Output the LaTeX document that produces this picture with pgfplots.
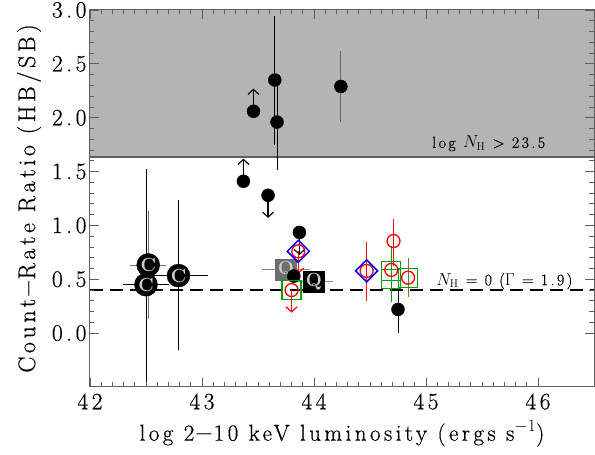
\documentclass[border=0pt]{standalone}
\usepackage{fontspec}
\usepackage{pgfplots}
\pgfplotsset{compat=1.18}
\usetikzlibrary{arrows.meta}
\newfontfamily\spaced{Latin Modern Roman}[LetterSpace=15, FakeBold=0.6]

\definecolor{shade}{RGB}{180,180,180}
\definecolor{edge}{RGB}{95,95,95}
\definecolor{qgray}{RGB}{110,110,110}
\definecolor{letter}{RGB}{205,205,205}
\definecolor{grn}{RGB}{0,155,0}
\definecolor{oliv}{RGB}{120,120,40}

\begin{document}
\begin{tikzpicture}
\path[use as bounding box] (-90pt,-68pt) rectangle (505pt,387pt);
\begin{axis}[
  scale only axis, width=504pt, height=377pt,
  xmin=42, xmax=46.5, ymin=-0.5, ymax=3,
  xtick={42,43,44,45,46}, ytick={0,0.5,1,1.5,2,2.5,3},
  minor x tick num=9, minor y tick num=4,
  tick align=inside, major tick length=9pt, minor tick length=4.5pt,
  axis line style={edge, line width=1pt},
  every tick/.style={edge, line width=0.8pt},
  /pgf/number format/assume math mode=true,
  ticklabel style={font=\fontsize{23.5}{23.5}\selectfont\spaced},
  xticklabel style={yshift=-3pt, /pgf/number format/.cd, fixed, precision=0, 1000 sep={}},
  yticklabel style={/pgf/number format/.cd, fixed, fixed zerofill, precision=1},
  xlabel={log 2$-$10 keV luminosity (ergs s$^{-1}$)},
  ylabel={Count$-$Rate Ratio (HB/SB)},
  xlabel style={font=\fontsize{23}{26}\selectfont\spaced, yshift=-4pt},
  ylabel style={font=\fontsize{24}{26}\selectfont\spaced, yshift=4pt},
  axis on top,
]

% obscured region
\addplot[fill=shade, draw=none] coordinates {(42,1.635) (46.5,1.635) (46.5,3) (42,3) (42,1.635)};
\addplot[edge, line width=1.5pt] coordinates {(42,1.635) (46.5,1.635)};

% unabsorbed power law
\addplot[black, line width=1.3pt, dash pattern=on 13pt off 7pt] coordinates {(42,0.4) (46.5,0.4)};

% C circles
\addplot[only marks, mark=*, mark size=11.5pt, black!55,
  mark options={black},
  nodes near coords={C},
  every node near coord/.style={anchor=center, text=letter, font=\fontsize{19}{19}\selectfont\bfseries},
  error bars/.cd, x dir=both, x explicit, y dir=both, y explicit,
  error bar style={line width=0.8pt}, error mark options={mark size=3.5pt, line width=0.8pt}]
  coordinates {(42.52,0.633) +- (0.13,0.47)};
\addplot[only marks, mark=*, mark size=11.5pt, black,
  nodes near coords={C},
  every node near coord/.style={anchor=center, text=letter, font=\fontsize{19}{19}\selectfont\bfseries},
  error bars/.cd, x dir=both, x explicit, y dir=both, y explicit,
  error bar style={line width=0.8pt}, error mark options={mark size=3.5pt, line width=0.8pt}]
  coordinates {
    (42.50,0.45) += (0.17,1.04) -= (0.17,1.0)
    (42.79,0.534) += (0.23,0.67) -= (0.23,0.66)
  };

% Q squares
\addplot[only marks, mark=square*, mark size=10.5pt, qgray!80,
  mark options={qgray},
  nodes near coords={Q},
  every node near coord/.style={anchor=center, text=letter, font=\fontsize{19}{19}\selectfont\bfseries},
  error bars/.cd, x dir=both, x explicit,
  error bar style={line width=0.8pt}, error mark options={mark size=3.5pt, line width=0.8pt}]
  coordinates {(43.75,0.59) +- (0.18,0)};
\addplot[only marks, mark=square*, mark size=10.5pt, qgray!80,
  mark options={black},
  nodes near coords={Q},
  every node near coord/.style={anchor=center, text=letter, font=\fontsize{19}{19}\selectfont\bfseries},
  error bars/.cd, x dir=both, x explicit,
  error bar style={line width=0.8pt}, error mark options={mark size=3.5pt, line width=0.8pt}]
  coordinates {(44.00,0.48) +- (0.14,0)};

% filled black circles
\addplot[only marks, mark=*, mark size=6.5pt, black,
  error bars/.cd, y dir=both, y explicit,
  error bar style={line width=0.8pt}, error mark options={mark size=3.5pt, line width=0.8pt}]
  coordinates {
    (43.65,2.35) += (0,0.56) -= (0,0.57)
    (43.67,1.96) += (0,0.34) -= (0,0.41)
    (44.75,0.22) +- (0,0.19)
  };
\addplot[only marks, mark=*, mark size=6.5pt, black!60,
  mark options={black},
  error bars/.cd, y dir=both, y explicit,
  error bar style={line width=1pt}, error mark options={mark size=3.5pt, line width=1pt}]
  coordinates {(44.24,2.29) +- (0,0.30)};
\addplot[only marks, mark=*, mark size=6.5pt, black]
  coordinates {(43.46,2.06) (43.37,1.41) (43.59,1.28) (43.87,0.935) (43.82,0.53)};

% limits (black)
\addplot[black, line width=1.2pt, -{Straight Barb[length=5pt, width=11pt]},
  quiver={u=0, v=\thisrow{v}}] table {
  x     y     v
  43.46 2.06  0.21
  43.37 1.41  0.21
  43.59 1.28  -0.21
  43.87 0.935 -0.21
};

% green squares
\addplot[only marks, mark=square, mark size=9.5pt, grn, line width=1.3pt,
  error bars/.cd, y dir=both, y explicit,
  error bar style={line width=0.8pt}, error mark options={mark size=3.5pt, line width=0.8pt}]
  coordinates {
    (43.80,0.40)
    (44.69,0.58) +- (0,0.20)
    (44.69,0.50) +- (0,0.18)
  };
\addplot[only marks, mark=square, mark size=9.5pt, grn, line width=1.3pt,
  error bars/.cd, y dir=both, y explicit,
  error bar style={oliv, line width=0.8pt}, error mark options={oliv, mark size=3.5pt, line width=0.8pt}]
  coordinates {(44.84,0.515) +- (0,0.15)};

% red open circles
\addplot[only marks, mark=o, mark size=6.5pt, red, line width=1.3pt,
  error bars/.cd, y dir=both, y explicit,
  error bar style={line width=0.8pt}, error mark options={mark size=3.5pt, line width=0.8pt}]
  coordinates {
    (43.86,0.76)
    (43.80,0.40)
    (44.47,0.578) += (0,0.24) -= (0,0.25)
    (44.71,0.855) += (0,0.175) -= (0,0.2)
    (44.69,0.587)
    (44.84,0.515)
  };
\addplot[red, line width=1.2pt, -{Straight Barb[length=5pt, width=11pt]},
  quiver={u=0, v=\thisrow{v}}] table {
  x     y     v
  43.86 0.76  -0.21
  43.80 0.40  -0.21
};

% blue diamonds
\addplot[only marks, mark=square, mark size=7.8pt, blue, line width=1.5pt,
  mark options={rotate=45}]
  coordinates {(43.86,0.76) (44.47,0.578)};

% annotations
\node[font=\fontsize{16}{16}\selectfont\spaced, anchor=base] at (axis cs:45.56,1.72)
  {log $N_{\mathrm{H}}$ > 23.5};
\node[font=\fontsize{16}{16}\selectfont\spaced, anchor=base] at (axis cs:45.70,0.445)
  {$N_{\mathrm{H}}$ = 0 ($\Gamma$ = 1.9)};

\end{axis}
\end{tikzpicture}
\end{document}
